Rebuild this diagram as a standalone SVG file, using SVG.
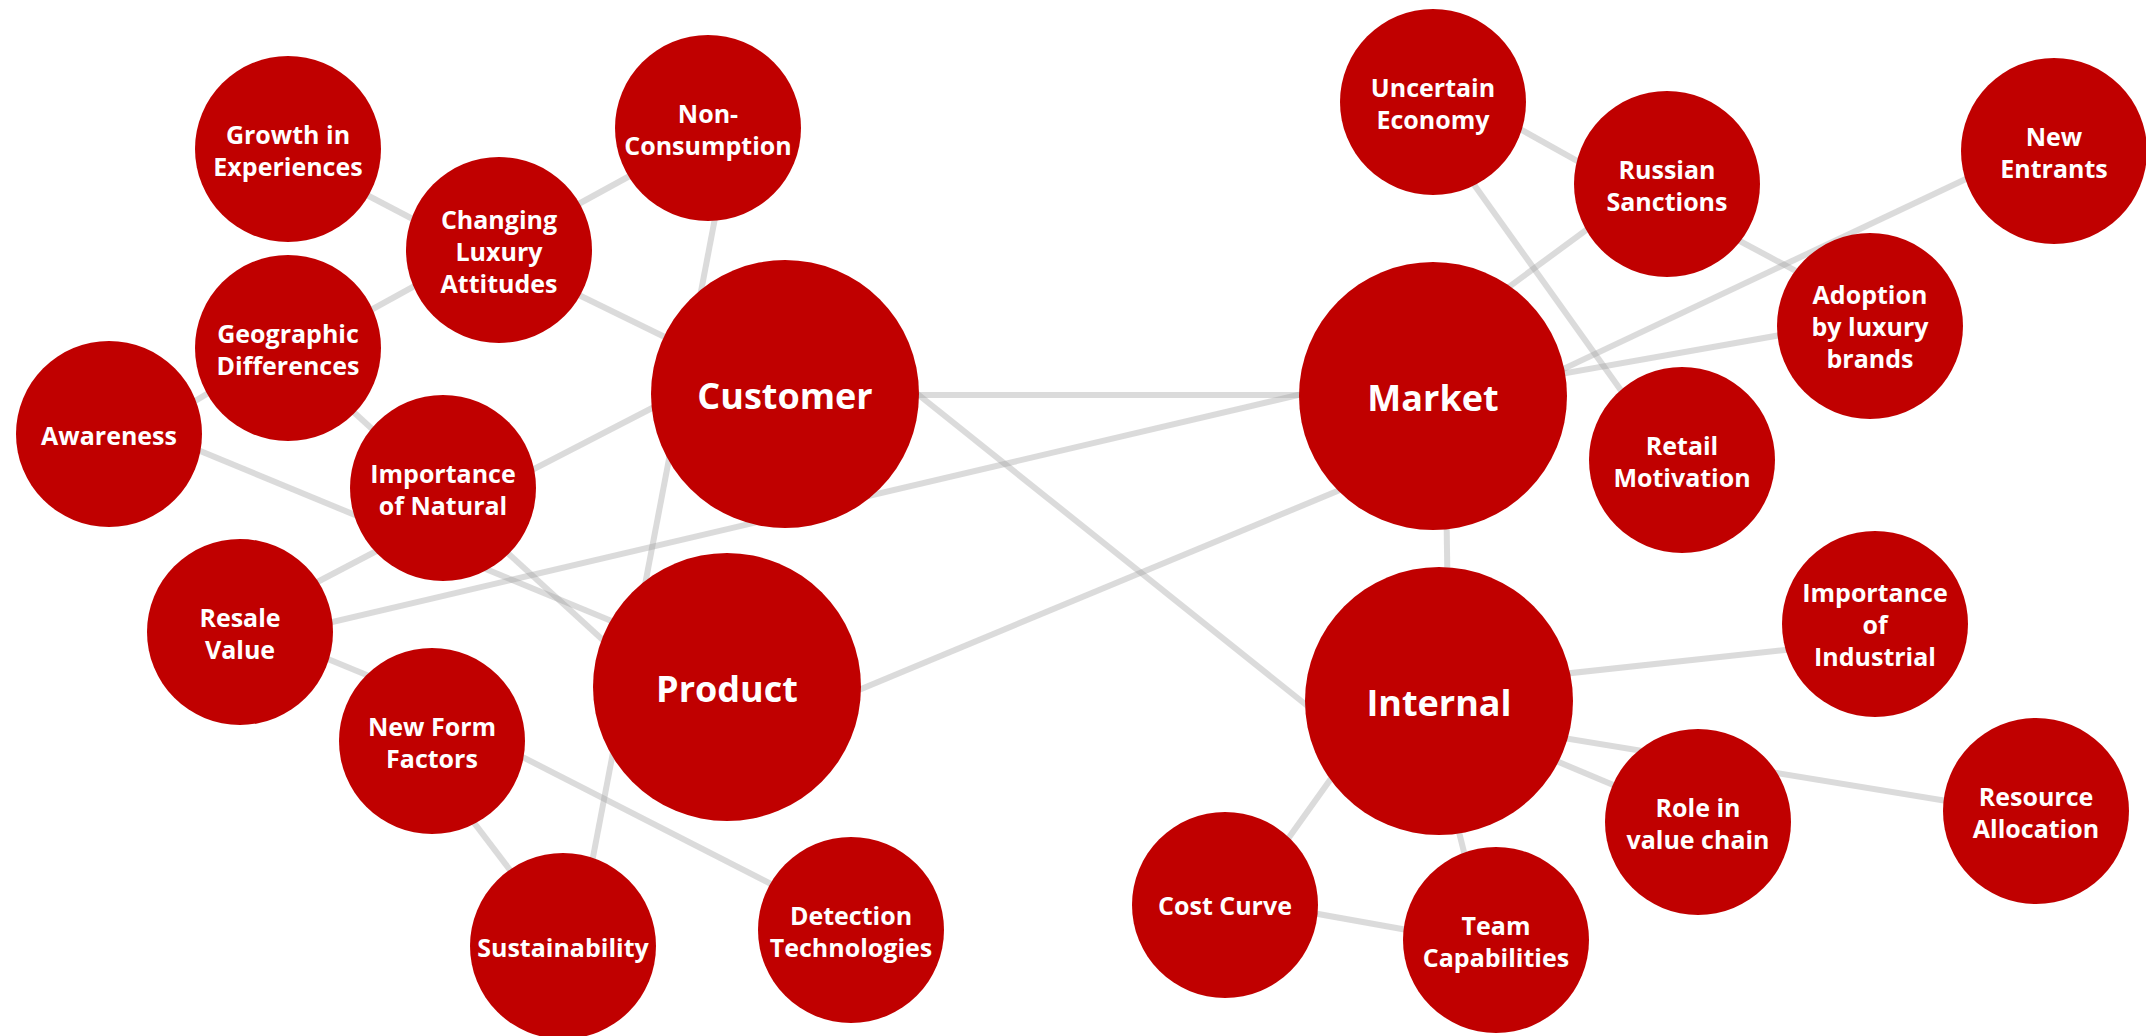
<svg xmlns="http://www.w3.org/2000/svg" width="2146" height="1036" viewBox="0 0 2146 1036">
<style>
.bg{fill:#ffffff}
.edge{stroke:#a0a0a0;stroke-opacity:0.38;stroke-width:6;stroke-linecap:butt;fill:none}
.n{fill:#C00000}
.t{fill:#ffffff;font-family:"Open Sans","Noto Sans","Liberation Sans",sans-serif;font-weight:700;font-size:25px;text-anchor:middle}
.T{fill:#ffffff;font-family:"Open Sans","Noto Sans","Liberation Sans",sans-serif;font-weight:700;font-size:36px;text-anchor:middle}
</style>
<rect class="bg" x="0" y="0" width="2146" height="1036"/>
<g id="connectors">
<line class="edge" x1="785" y1="395" x2="1433" y2="395"/>
<line class="edge" x1="850" y1="340" x2="1330" y2="724"/>
<line class="edge" x1="728" y1="150" x2="581" y2="920"/>
<line class="edge" x1="499" y1="256" x2="720" y2="364"/>
<line class="edge" x1="520" y1="236" x2="690" y2="143"/>
<line class="edge" x1="300" y1="160" x2="470" y2="249"/>
<line class="edge" x1="300" y1="349" x2="480" y2="250"/>
<line class="edge" x1="130" y1="440" x2="270" y2="356"/>
<line class="edge" x1="300" y1="363" x2="640" y2="674"/>
<line class="edge" x1="130" y1="422" x2="660" y2="641"/>
<line class="edge" x1="470" y1="502" x2="720" y2="373"/>
<line class="edge" x1="260" y1="612" x2="430" y2="523"/>
<line class="edge" x1="260" y1="639" x2="1400" y2="371"/>
<line class="edge" x1="260" y1="631" x2="420" y2="697"/>
<line class="edge" x1="440" y1="778" x2="545" y2="916"/>
<line class="edge" x1="450" y1="720" x2="830" y2="914"/>
<line class="edge" x1="760" y1="731" x2="1400" y2="465"/>
<line class="edge" x1="1450" y1="90" x2="1640" y2="196"/>
<line class="edge" x1="1445" y1="144" x2="1670" y2="459"/>
<line class="edge" x1="1650" y1="183" x2="1460" y2="323"/>
<line class="edge" x1="1680" y1="209" x2="1850" y2="300"/>
<line class="edge" x1="2040" y1="144" x2="1470" y2="413"/>
<line class="edge" x1="1860" y1="321" x2="1470" y2="390"/>
<line class="edge" x1="1445" y1="420" x2="1449" y2="680"/>
<line class="edge" x1="1460" y1="685" x2="1860" y2="642"/>
<line class="edge" x1="1460" y1="721" x2="2020" y2="813"/>
<line class="edge" x1="1480" y1="729" x2="1680" y2="813"/>
<line class="edge" x1="1380" y1="710" x2="1240" y2="906"/>
<line class="edge" x1="1431" y1="720" x2="1481" y2="920"/>
<line class="edge" x1="1240" y1="900" x2="1480" y2="943"/>
</g>
<g id="customer"><circle class="n" cx="785" cy="394" r="134"/><text class="T" x="785" y="409">Customer</text></g>
<g id="market"><circle class="n" cx="1433" cy="396" r="134"/><text class="T" x="1433" y="411">Market</text></g>
<g id="product"><circle class="n" cx="727" cy="687" r="134"/><text class="T" x="727" y="702">Product</text></g>
<g id="internal"><circle class="n" cx="1439" cy="701" r="134"/><text class="T" x="1439" y="716">Internal</text></g>
<g id="growth"><circle class="n" cx="288" cy="149" r="93"/><text class="t" x="288" y="144">Growth in</text><text class="t" x="288" y="176">Experiences</text></g>
<g id="nonconsumption"><circle class="n" cx="708" cy="128" r="93"/><text class="t" x="708" y="123">Non-</text><text class="t" x="708" y="155">Consumption</text></g>
<g id="changing"><circle class="n" cx="499" cy="250" r="93"/><text class="t" x="499" y="229">Changing</text><text class="t" x="499" y="261">Luxury</text><text class="t" x="499" y="293">Attitudes</text></g>
<g id="geographic"><circle class="n" cx="288" cy="348" r="93"/><text class="t" x="288" y="343">Geographic</text><text class="t" x="288" y="375">Differences</text></g>
<g id="awareness"><circle class="n" cx="109" cy="434" r="93"/><text class="t" x="109" y="445">Awareness</text></g>
<g id="natural"><circle class="n" cx="443" cy="488" r="93"/><text class="t" x="443" y="483">Importance</text><text class="t" x="443" y="515">of Natural</text></g>
<g id="resale"><circle class="n" cx="240" cy="632" r="93"/><text class="t" x="240" y="627">Resale</text><text class="t" x="240" y="659">Value</text></g>
<g id="newform"><circle class="n" cx="432" cy="741" r="93"/><text class="t" x="432" y="736">New Form</text><text class="t" x="432" y="768">Factors</text></g>
<g id="sustainability"><circle class="n" cx="563" cy="946" r="93"/><text class="t" x="563" y="957">Sustainability</text></g>
<g id="detection"><circle class="n" cx="851" cy="930" r="93"/><text class="t" x="851" y="925">Detection</text><text class="t" x="851" y="957">Technologies</text></g>
<g id="uncertain"><circle class="n" cx="1433" cy="102" r="93"/><text class="t" x="1433" y="97">Uncertain</text><text class="t" x="1433" y="129">Economy</text></g>
<g id="russian"><circle class="n" cx="1667" cy="184" r="93"/><text class="t" x="1667" y="179">Russian</text><text class="t" x="1667" y="211">Sanctions</text></g>
<g id="newentrants"><circle class="n" cx="2054" cy="151" r="93"/><text class="t" x="2054" y="146">New</text><text class="t" x="2054" y="178">Entrants</text></g>
<g id="adoption"><circle class="n" cx="1870" cy="326" r="93"/><text class="t" x="1870" y="304">Adoption</text><text class="t" x="1870" y="336">by luxury</text><text class="t" x="1870" y="368">brands</text></g>
<g id="retail"><circle class="n" cx="1682" cy="460" r="93"/><text class="t" x="1682" y="455">Retail</text><text class="t" x="1682" y="487">Motivation</text></g>
<g id="industrial"><circle class="n" cx="1875" cy="624" r="93"/><text class="t" x="1875" y="602">Importance</text><text class="t" x="1875" y="634">of</text><text class="t" x="1875" y="666">Industrial</text></g>
<g id="resource"><circle class="n" cx="2036" cy="811" r="93"/><text class="t" x="2036" y="806">Resource</text><text class="t" x="2036" y="838">Allocation</text></g>
<g id="role"><circle class="n" cx="1698" cy="822" r="93"/><text class="t" x="1698" y="817">Role in</text><text class="t" x="1698" y="849">value chain</text></g>
<g id="cost"><circle class="n" cx="1225" cy="905" r="93"/><text class="t" x="1225" y="915">Cost Curve</text></g>
<g id="team"><circle class="n" cx="1496" cy="940" r="93"/><text class="t" x="1496" y="935">Team</text><text class="t" x="1496" y="967">Capabilities</text></g>
</svg>
